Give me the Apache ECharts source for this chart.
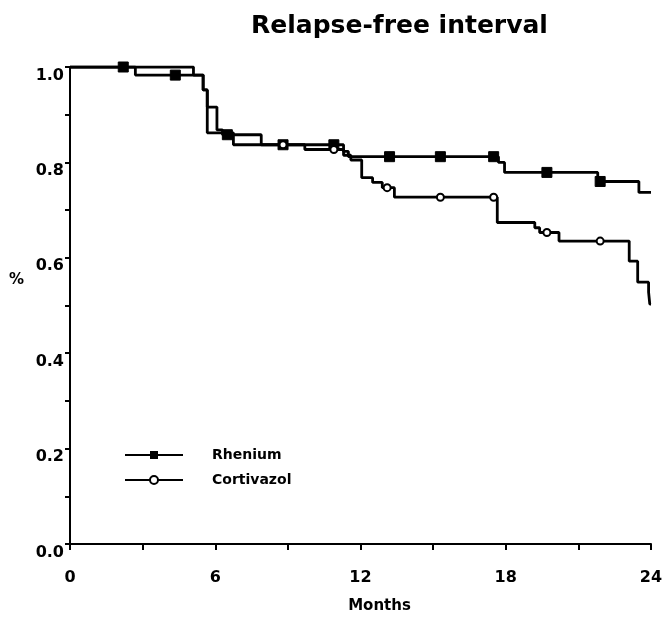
<!DOCTYPE html>
<html>
<head>
<meta charset="utf-8">
<script src="https://cdn.jsdelivr.net/npm/echarts@6/dist/echarts.min.js"></script>
<style>
html, body { margin: 0; padding: 0; background: #fff; }
#chart { width: 666px; height: 619px; }
</style>
</head>
<body>
<div id="chart"></div>
<script>
// Kaplan-Meier steps: month of change, value after change, censored mark (1 = marker)
var rheniumMonths   = [0, 2.2, 2.7, 4.35, 5.5, 5.67, 6.07, 6.3, 6.5, 7.9, 8.8, 10.9, 11.3, 11.5, 13.2, 15.3, 17.5, 17.7, 17.95, 19.7, 21.8, 21.9, 23.5, 24];
var rheniumValues   = [1.0, 1.0, 0.983, 0.983, 0.952, 0.916, 0.868, 0.858, 0.858, 0.837, 0.837, 0.837, 0.823, 0.812, 0.812, 0.812, 0.812, 0.80, 0.779, 0.779, 0.76, 0.76, 0.737, 0.737];
var rheniumCensored = [0, 1, 0, 1, 0, 0, 0, 0, 1, 0, 1, 1, 0, 0, 1, 1, 1, 0, 0, 1, 0, 1, 0, 0];

var cortivazolMonths   = [0, 5.1, 5.5, 5.67, 6.75, 8.8, 9.7, 10.9, 11.3, 11.6, 12.05, 12.5, 12.9, 13.1, 13.4, 15.3, 17.5, 17.65, 19.2, 19.4, 19.7, 20.2, 21.9, 23.1, 23.45, 23.9, 23.95, 24];
var cortivazolValues   = [1.0, 0.983, 0.952, 0.862, 0.837, 0.837, 0.827, 0.827, 0.815, 0.805, 0.768, 0.758, 0.747, 0.747, 0.727, 0.727, 0.727, 0.674, 0.663, 0.653, 0.653, 0.635, 0.635, 0.593, 0.549, 0.528, 0.503, 0.503];
var cortivazolCensored = [0, 0, 0, 0, 0, 1, 0, 1, 0, 0, 0, 0, 0, 1, 0, 1, 1, 0, 0, 0, 1, 0, 1, 0, 0, 0, 0, 0];

var xTicks = [0, 6, 12, 18, 24];
var yTicks = [0.0, 0.2, 0.4, 0.6, 0.8, 1.0];

var font = 'DejaVu Sans';

function buildData(months, values, censored) {
	var out = [];
	for (var i = 0; i < months.length; i++) {
		var item = { value: [months[i], values[i]] };
		if (!censored[i]) {
			item.symbol = 'none';
		}
		out.push(item);
	}
	return out;
}

var chart = echarts.init(document.getElementById('chart'));
var option = {
	animation: false,
	backgroundColor: '#fff',
	title: {
		text: 'Relapse-free interval',
		left: 251,
		top: 14,
		padding: 0,
		textStyle: { fontFamily: font, fontWeight: 'bold', fontSize: 25, color: '#000' }
	},
	// y axis name placed by hand, it sits above the middle of the axis
	graphic: [{
		type: 'text',
		left: 9,
		top: 273,
		style: { text: '%', fontFamily: font, fontWeight: 'bold', fontSize: 15, fill: '#000' }
	}],
	legend: {
		orient: 'vertical',
		left: 119,
		top: 442,
		itemWidth: 58,
		itemHeight: 10,
		itemGap: 9,
		textStyle: { fontFamily: font, fontWeight: 'bold', fontSize: 14, color: '#000', lineHeight: 16, padding: [0, 0, 0, 24] },
		data: ['Rhenium', 'Cortivazol']
	},
	grid: { left: 70, right: 15, top: 67, bottom: 73 },
	xAxis: {
		type: 'value',
		min: 0,
		max: 24,
		interval: 3,
		name: 'Months',
		nameLocation: 'middle',
		nameGap: 55,
		nameTextStyle: { fontFamily: font, fontWeight: 'bold', fontSize: 15, color: '#000', padding: [0, 0, 0, 38] },
		axisLine: { lineStyle: { color: '#000', width: 2 } },
		axisTick: { length: 6, lineStyle: { color: '#000', width: 2 } },
		axisLabel: {
			margin: 26,
			fontFamily: font, fontWeight: 'bold', fontSize: 16, color: '#000',
			formatter: function (v) { return xTicks.indexOf(v) >= 0 ? String(v) : ''; }
		},
		splitLine: { show: false }
	},
	yAxis: {
		type: 'value',
		min: 0,
		max: 1,
		interval: 0.1,
		axisLine: { lineStyle: { color: '#000', width: 2 } },
		axisTick: { length: 5, lineStyle: { color: '#000', width: 2 } },
		axisLabel: {
			margin: 6,
			verticalAlign: 'top',
			lineHeight: 17,
			fontFamily: font, fontWeight: 'bold', fontSize: 16, color: '#000',
			formatter: function (v) {
				var r = Math.round(v * 10) / 10;
				for (var i = 0; i < yTicks.length; i++) {
					if (Math.abs(yTicks[i] - r) < 1e-6) return r.toFixed(1);
				}
				return '';
			}
		},
		splitLine: { show: false }
	},
	series: [
		{
			name: 'Rhenium',
			type: 'line',
			step: 'end',
			symbol: 'rect',
			symbolSize: 10,
			showSymbol: true,
			showAllSymbol: true,
			lineStyle: { color: '#000', width: 2.8 },
			itemStyle: { color: '#000', borderColor: '#000' },
			data: buildData(rheniumMonths, rheniumValues, rheniumCensored)
		},
		{
			name: 'Cortivazol',
			type: 'line',
			step: 'end',
			symbol: 'circle',
			symbolSize: 7,
			showSymbol: true,
			showAllSymbol: true,
			lineStyle: { color: '#000', width: 2.8 },
			itemStyle: { color: '#fff', borderColor: '#000', borderWidth: 2 },
			data: buildData(cortivazolMonths, cortivazolValues, cortivazolCensored)
		}
	]
};
chart.setOption(option);
</script>
</body>
</html>
